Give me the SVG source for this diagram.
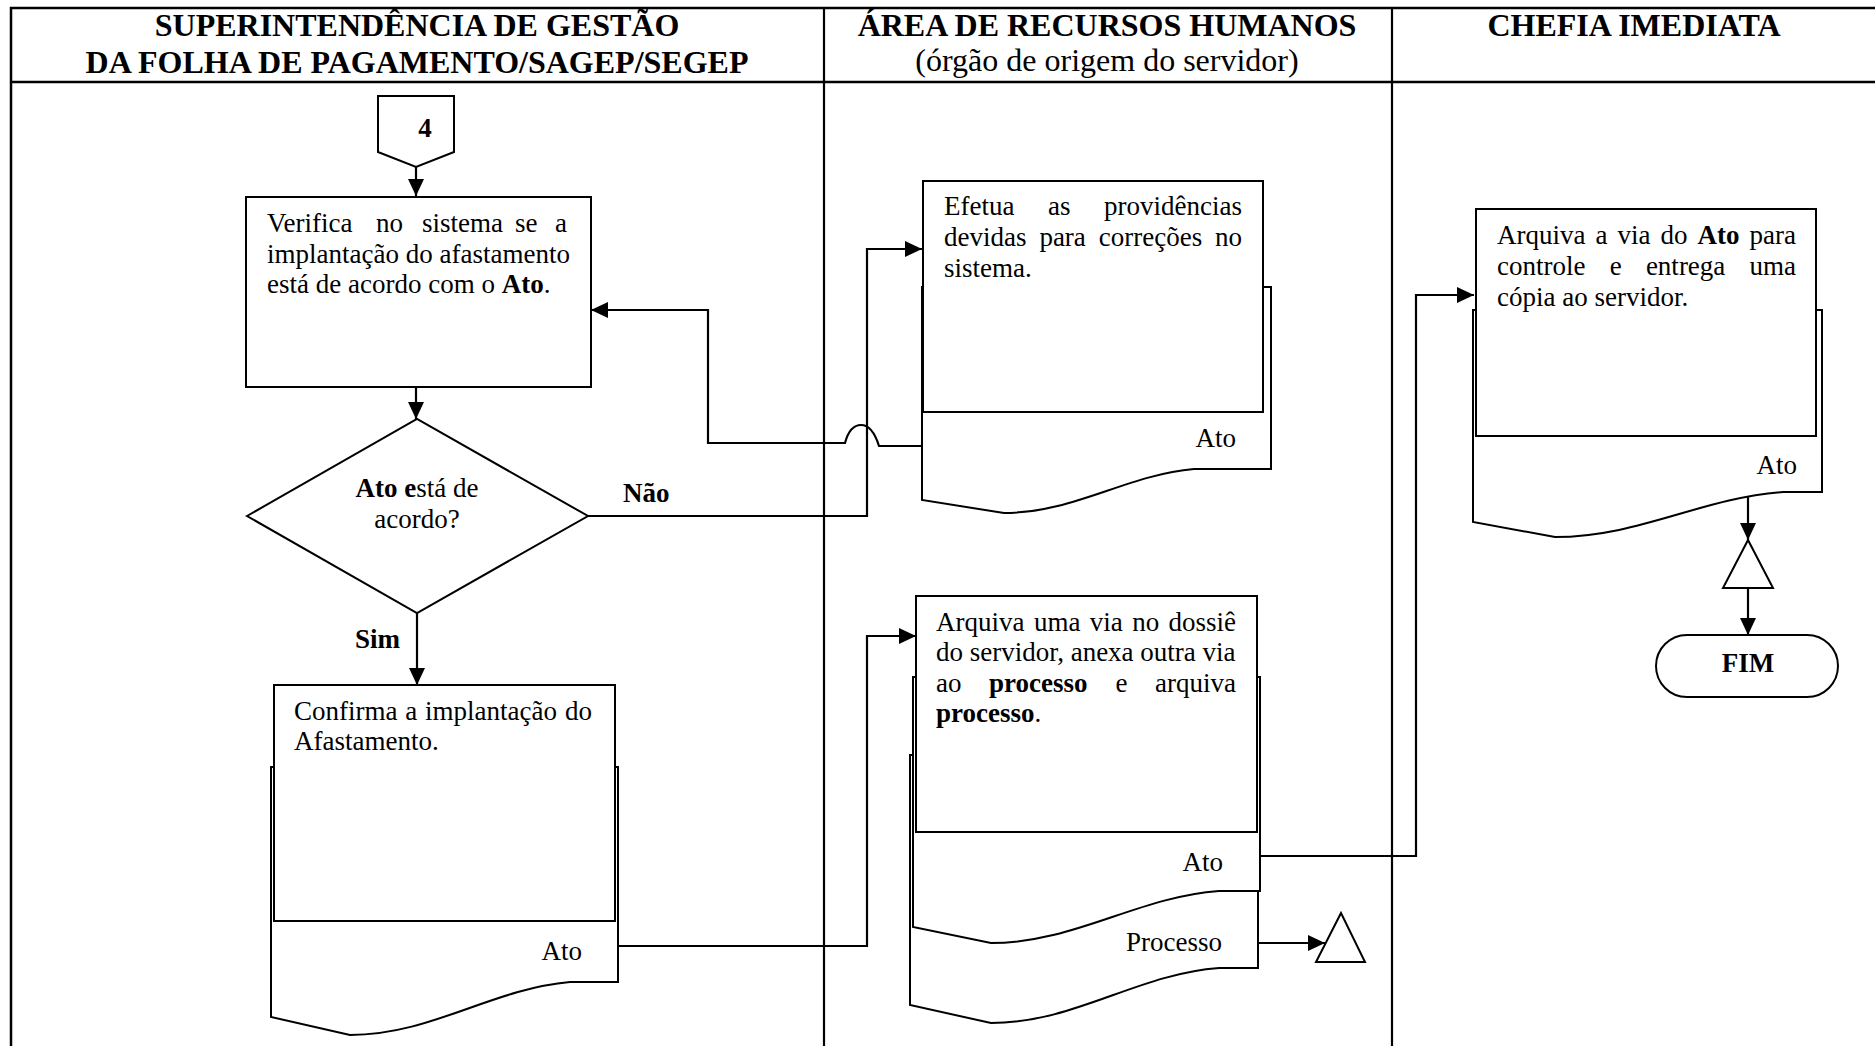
<svg xmlns="http://www.w3.org/2000/svg" width="1875" height="1046" viewBox="0 0 1875 1046">
<style>
text{font-family:"Liberation Serif","Times New Roman",serif;fill:#000}
.h{font-size:32px;font-weight:bold}
.hs{font-size:32px}
.t{font-size:27px}
.b{font-weight:bold}
.s{fill:#fff;stroke:#000;stroke-width:2}
.c{fill:none;stroke:#000;stroke-width:2.2}
.f{stroke:#000;stroke-width:2.5;fill:none}
</style>
<defs>
<marker id="ah" markerUnits="userSpaceOnUse" markerWidth="18" markerHeight="16" refX="17" refY="8" orient="auto">
<path d="M0,0 L17,8 L0,16 Z" fill="#000"/>
</marker>
</defs>
<rect width="1875" height="1046" fill="#fff"/>
<g id="frame">
<path class="f" d="M11,1046 V8 H1875 M11,82 H1875"/>
<path class="c" d="M824,8 V1046 M1392,8 V1046"/>
<text class="h" x="417" y="36" text-anchor="middle">SUPERINTENDÊNCIA DE GESTÃO</text>
<text class="h" x="417" y="73" text-anchor="middle">DA FOLHA DE PAGAMENTO/SAGEP/SEGEP</text>
<text class="h" x="1107" y="36" text-anchor="middle">ÁREA DE RECURSOS HUMANOS</text>
<text class="hs" x="1107" y="71" text-anchor="middle">(órgão de origem do servidor)</text>
<text class="h" x="1634" y="36" text-anchor="middle">CHEFIA IMEDIATA</text>
</g>
<g id="connectors">
<path class="c" marker-end="url(#ah)" d="M416,167 V196"/>
<path class="c" marker-end="url(#ah)" d="M416,387 V419"/>
<path class="c" marker-end="url(#ah)" d="M417,613 V685"/>
<path class="c" marker-end="url(#ah)" d="M588,516 H867 V249 H922"/>
<path class="c" marker-end="url(#ah)" d="M922,446 H879 C874,430 868,425 861,425 C856,425 849,428 845,443 H708 V310 H591"/>
<path class="c" marker-end="url(#ah)" d="M618,946 H867 V636 H916"/>
<path class="c" marker-end="url(#ah)" d="M1260,856 H1416 V295 H1474"/>
<path class="c" marker-end="url(#ah)" d="M1258,943 H1325"/>
<path class="c" marker-end="url(#ah)" d="M1748,497 V540"/>
<path class="c" marker-end="url(#ah)" d="M1748,588 V635"/>
<text class="t b" x="623" y="502">Não</text>
<text class="t b" x="355" y="648">Sim</text>
</g>
<g id="n4">
<polygon class="s" points="378,96 454,96 454,152 416,167 378,152"/>
<text class="t b" x="425" y="137" text-anchor="middle">4</text>
</g>
<g id="verifica">
<rect class="s" x="246" y="197" width="345" height="190"/>
<text class="t" y="232"><tspan x="267">Verifica</tspan><tspan x="376">no</tspan><tspan x="422">sistema</tspan><tspan x="515">se</tspan><tspan x="555">a</tspan></text>
<text class="t" x="267" y="262.5">implantação do afastamento</text>
<text class="t" x="267" y="293">está de acordo com o <tspan class="b">Ato</tspan>.</text>
</g>
<g id="decisao">
<polygon class="s" points="247,516 417,419 588,516 417,613"/>
<text class="t" x="417" y="497" text-anchor="middle"><tspan class="b">Ato e</tspan>stá de</text>
<text class="t" x="417" y="528" text-anchor="middle">acordo?</text>
</g>
<g id="confirma">
<path class="s" d="M271,767 H618 V982 H570 C491,989 431,1035 350,1035 L271,1017 Z"/>
<rect class="s" x="274" y="685" width="341" height="236"/>
<text class="t" y="720"><tspan x="294">Confirma</tspan><tspan x="405.3">a</tspan><tspan x="425.1">implantação</tspan><tspan x="564.9">do</tspan></text>
<text class="t" x="294" y="750">Afastamento.</text>
<text class="t" x="582" y="960" text-anchor="end">Ato</text>
</g>
<g id="efetua">
<path class="s" d="M922,287 H1271 V469 H1194 C1126,475 1074,513 1004,513 L922,500 Z"/>
<rect class="s" x="923" y="181" width="340" height="231"/>
<text class="t" y="215"><tspan x="944">Efetua</tspan><tspan x="1048">as</tspan><tspan x="1104">providências</tspan></text>
<text class="t" y="246"><tspan x="944">devidas</tspan><tspan x="1039.4">para</tspan><tspan x="1098.8">correções</tspan><tspan x="1215.1">no</tspan></text>
<text class="t" x="944" y="277">sistema.</text>
<text class="t" x="1236" y="447" text-anchor="end">Ato</text>
</g>
<g id="arquiva-rh">
<path class="s" d="M910,755 H1258 V968 H1219 C1137,974 1075,1023 991,1023 L910,1005 Z"/>
<path class="s" d="M913,677 H1260 V891 H1219 C1137,897 1075,943 991,943 L913,927 Z"/>
<rect class="s" x="916" y="596" width="341" height="236"/>
<text class="t" y="630.5"><tspan x="936">Arquiva</tspan><tspan x="1033.9">uma</tspan><tspan x="1089.8">via</tspan><tspan x="1132.2">no</tspan><tspan x="1168.6">dossiê</tspan></text>
<text class="t" x="936" y="661">do servidor, anexa outra via</text>
<text class="t" y="691.5"><tspan x="936">ao</tspan><tspan x="989" class="b">processo</tspan><tspan x="1115.5">e</tspan><tspan x="1155">arquiva</tspan></text>
<text class="t" x="936" y="722"><tspan class="b">processo</tspan>.</text>
<text class="t" x="1223" y="871" text-anchor="end">Ato</text>
<text class="t" x="1222" y="951" text-anchor="end">Processo</text>
</g>
<g id="arquivo-rh">
<polygon class="s" points="1341,913 1316,962 1365,962"/>
</g>
<g id="arquiva-chefia">
<path class="s" d="M1473,310 H1822 V492 H1783 C1701,498 1639,537 1555,537 L1473,522 Z"/>
<rect class="s" x="1476" y="209" width="340" height="227"/>
<text class="t" y="244"><tspan x="1497">Arquiva</tspan><tspan x="1595.5">a</tspan><tspan x="1617.5">via</tspan><tspan x="1660.5">do</tspan><tspan x="1697.5" class="b">Ato</tspan><tspan x="1749.5">para</tspan></text>
<text class="t" y="275"><tspan x="1497">controle</tspan><tspan x="1609.7">e</tspan><tspan x="1645.9">entrega</tspan><tspan x="1749.6">uma</tspan></text>
<text class="t" x="1497" y="306">cópia ao servidor.</text>
<text class="t" x="1797" y="474" text-anchor="end">Ato</text>
</g>
<g id="arquivo-chefia">
<polygon class="s" points="1748,540 1723,588 1773,588"/>
</g>
<g id="fim">
<rect class="s" x="1656" y="635" width="182" height="62" rx="31"/>
<text class="t b" x="1748" y="672" text-anchor="middle">FIM</text>
</g>
</svg>
